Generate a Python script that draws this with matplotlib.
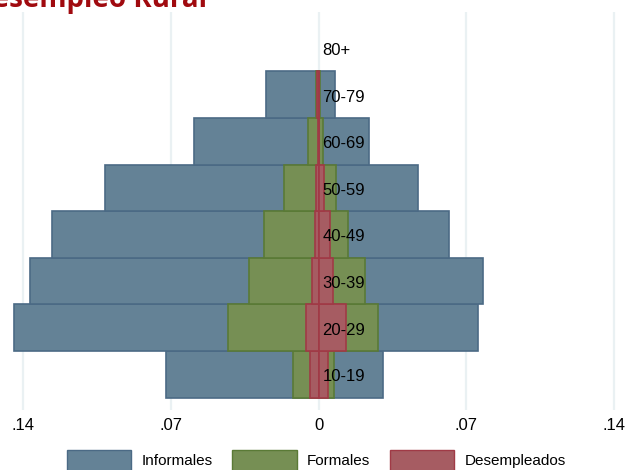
import matplotlib
matplotlib.use("Agg")
import matplotlib.pyplot as plt
from matplotlib.patches import Patch

ages = ["10-19", "20-29", "30-39", "40-49", "50-59", "60-69", "70-79", "80+"]
# left side (shown as negative), right side (positive)
informales_left = [0.0724, 0.1443, 0.1367, 0.1263, 0.1012, 0.0591, 0.0251, 0.0]
informales_right = [0.0307, 0.0757, 0.0781, 0.0620, 0.0473, 0.0241, 0.0080, 0.0]
formales_left = [0.0120, 0.0429, 0.0331, 0.0259, 0.0164, 0.0050, 0.0014, 0.0]
formales_right = [0.0072, 0.0282, 0.0219, 0.0139, 0.0082, 0.0022, 0.0005, 0.0]
desemp_left = [0.0038, 0.0060, 0.0030, 0.0019, 0.0013, 0.0003, 0.0005, 0.0]
desemp_right = [0.0044, 0.0132, 0.0069, 0.0054, 0.0028, 0.0003, 0.0004, 0.0]
tick_vals = [-0.14, -0.07, 0, 0.07, 0.14]
tick_labels = [".14", ".07", "0", ".07", ".14"]
series_names = ["Informales", "Formales", "Desempleados"]

C_BLUE, E_BLUE = "#648296", "#4b6a85"
C_GREEN, E_GREEN = "#768f54", "#5a7a36"
C_RED, E_RED = "#a65c62", "#a03a46"

NARROW = ["Liberation Sans", "DejaVu Sans"]

fig = plt.figure(figsize=(6.25, 4.7), dpi=100)
ax = fig.add_axes([0, 60 / 470, 1, 398 / 470])

y = list(range(1, len(ages) + 1))
h = 1.0
lw = 1.2
for left, right, c, e in [(informales_left, informales_right, C_BLUE, E_BLUE),
                          (formales_left, formales_right, C_GREEN, E_GREEN),
                          (desemp_left, desemp_right, C_RED, E_RED)]:
    ax.barh(y, [-v for v in left], height=h, color=c, edgecolor=e,
            linewidth=[lw if v > 0 else 0 for v in left], zorder=3)
    ax.barh(y, right, height=h, color=c, edgecolor=e,
            linewidth=[lw if v > 0 else 0 for v in right], zorder=3)

for yi, lab in zip(y, ages):
    ax.text(0.0019, yi - 0.05, lab, ha="left", va="center", fontsize=12,
            family=NARROW, color="black", zorder=5)

ax.set_xlim(-0.1509, 0.1452)
ax.set_ylim(0.234, 8.775)
ax.set_xticks(tick_vals)
ax.set_xticklabels(tick_labels, family=NARROW, fontsize=12)
ax.set_yticks([])
ax.tick_params(axis="x", length=0, pad=6)
ax.grid(axis="x", color="#eaf1f3", linewidth=1.6, zorder=0)
for s in ax.spines.values():
    s.set_visible(False)

fig.text(207 / 625, 1 - 7 / 470, "Desempleo Rural", ha="right", va="baseline",
         fontsize=20, fontweight="bold", color="#a00a0f", family=["Open Sans", "DejaVu Sans"])

handles = [Patch(facecolor=C_BLUE, edgecolor=E_BLUE, linewidth=1),
           Patch(facecolor=C_GREEN, edgecolor=E_GREEN, linewidth=1),
           Patch(facecolor=C_RED, edgecolor=E_RED, linewidth=1)]
fig.legend(handles, series_names, loc="upper left", bbox_to_anchor=(67 / 625, 1 - 450 / 470),
           ncol=3, frameon=False, borderaxespad=0, borderpad=0,
           handlelength=4.2, handleheight=1.7, handletextpad=0.7, columnspacing=1.27,
           prop={"family": NARROW, "size": 11})

fig.savefig("out.png", dpi=100)
